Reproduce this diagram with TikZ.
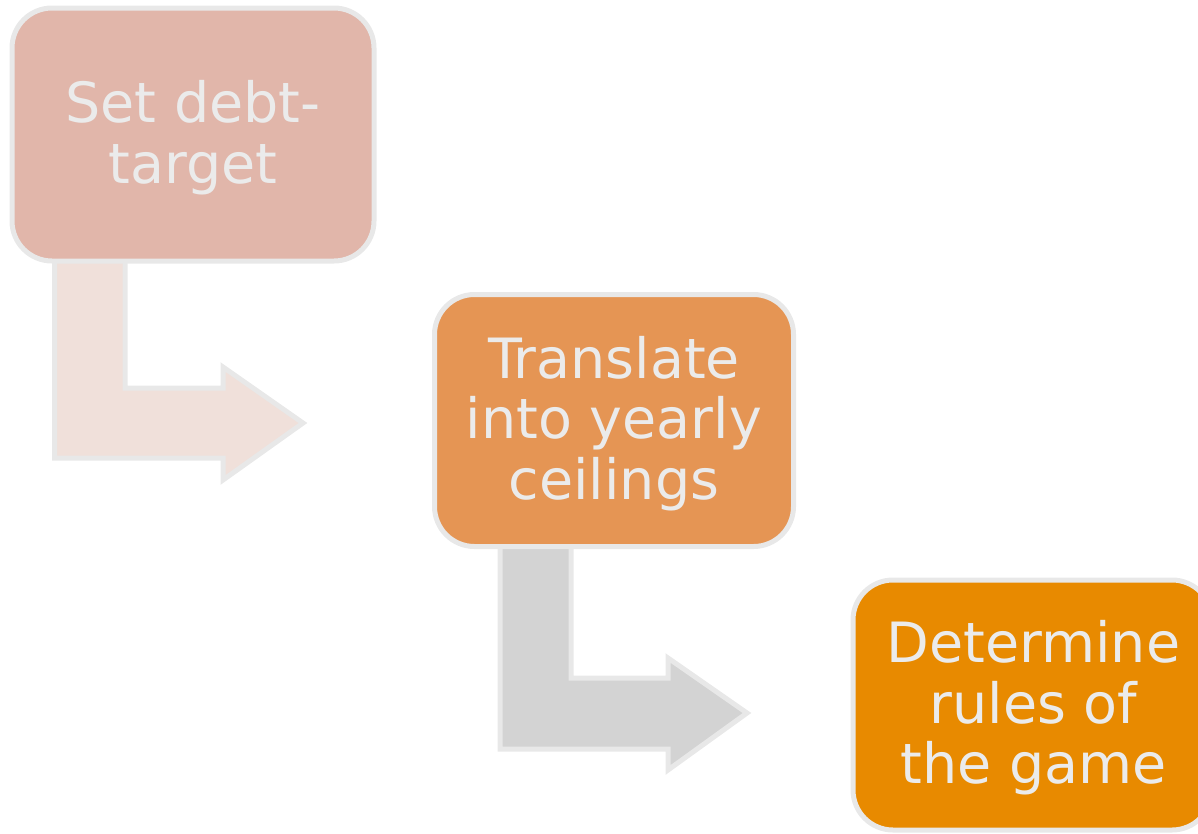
\documentclass[tikz,border=0pt]{standalone}
\usepackage{fontspec}
\setmainfont{DejaVu Sans}
\definecolor{edge}{HTML}{E8E8E8}
\definecolor{txt}{HTML}{EBEBEB}
\definecolor{boxA}{HTML}{E1B6AA}
\definecolor{boxB}{HTML}{E59554}
\definecolor{boxC}{HTML}{E88A00}
\definecolor{arrA}{HTML}{F0E0DA}
\definecolor{arrB}{HTML}{D3D3D3}
\begin{document}
\begin{tikzpicture}[x=1pt,y=-1pt,
  stepbox/.style={draw=edge, line width=5pt, rounded corners=40pt, inner sep=0pt},
  steptext/.style={text=txt, align=center, inner sep=0pt, yshift=-3pt,
    font=\fontsize{55.5}{60.5}\selectfont},
  bentarrow/.style={draw=edge, line width=5pt, line join=miter}]
\useasboundingbox (0,0) rectangle (1198,833);
\begin{scope}
\clip (0,0) rectangle (1198,833);
% arrows (behind boxes)
\draw[bentarrow, fill=arrA] (54.5,255) -- (125,255) -- (125,388) -- (223,388) -- (223,367)
  -- (303,423) -- (223,480) -- (223,458) -- (54.5,458) -- cycle;
\draw[bentarrow, fill=arrB] (500,540) -- (571,540) -- (571,678) -- (668,678) -- (668,658)
  -- (747,713) -- (668,770) -- (668,749) -- (500,749) -- cycle;
% boxes
\node[stepbox, fill=boxA, minimum width=362pt, minimum height=253pt] (b1) at (193,134.5) {};
\node[steptext] (t1) at (b1.center) {Set debt-\\target};
\node[stepbox, fill=boxB, minimum width=359pt, minimum height=252pt] (b2) at (614,420.5) {};
\node[steptext] (t2) at (b2.center) {Translate\\into yearly\\ceilings};
\node[stepbox, fill=boxC, minimum width=359pt, minimum height=250pt] (b3) at (1032.5,705) {};
\node[steptext, xshift=1pt] (t3) at (b3.center) {Determine\\rules of\\the game};
\end{scope}
\end{tikzpicture}
\end{document}
